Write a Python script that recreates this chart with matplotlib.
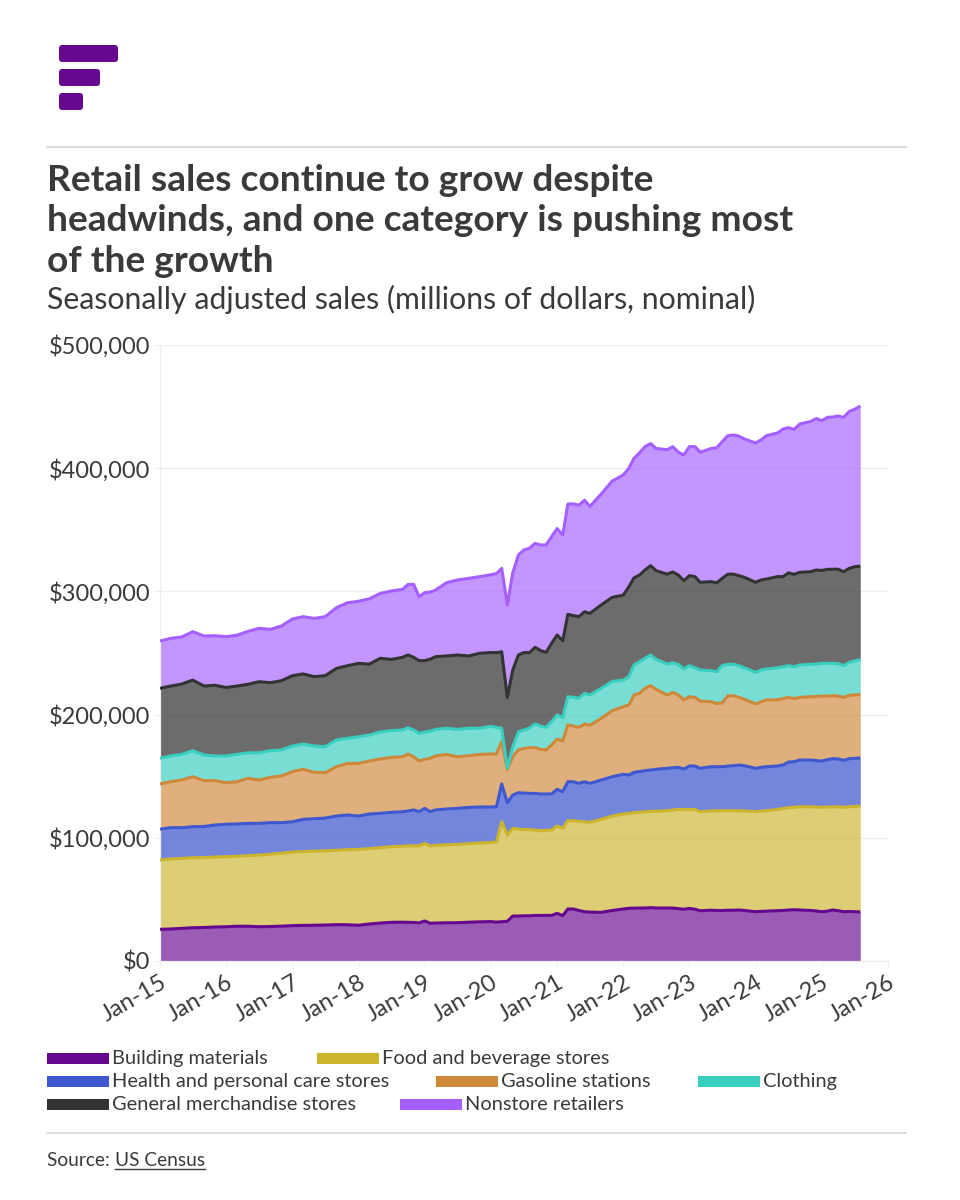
import numpy as np
import pandas as pd
import matplotlib
matplotlib.use("Agg")
import matplotlib.pyplot as plt
import matplotlib.dates as mdates
from matplotlib.patches import FancyBboxPatch, Rectangle
from matplotlib.ticker import FuncFormatter

plt.rcParams["font.family"] = ["Lato", "DejaVu Sans"]

months = ["2015-01","2015-03","2015-05","2015-07","2015-09","2015-11","2016-01","2016-03","2016-05","2016-07","2016-09","2016-11",
          "2017-01","2017-03","2017-05","2017-07","2017-09","2017-11","2018-01","2018-03","2018-05","2018-07","2018-09","2018-10",
          "2018-11","2018-12","2019-01","2019-02","2019-03","2019-05","2019-07","2019-09","2019-11","2020-01","2020-02","2020-03",
          "2020-04","2020-05","2020-06","2020-07","2020-08","2020-09","2020-10","2020-11","2020-12","2021-01","2021-02","2021-03",
          "2021-04","2021-05","2021-06","2021-07","2021-09","2021-11","2022-01","2022-02","2022-03","2022-04","2022-05","2022-06",
          "2022-07","2022-09","2022-10","2022-11","2022-12","2023-01","2023-02","2023-03","2023-05","2023-06","2023-07","2023-08",
          "2023-09","2023-10","2023-11","2024-01","2024-02","2024-03","2024-05","2024-06","2024-07","2024-08","2024-09","2024-11",
          "2024-12","2025-01","2025-02","2025-03","2025-04","2025-05","2025-06","2025-07","2025-08"]

# top edge of each stacked band, in $ thousand millions
building_top = [25.7,26,26.5,27,27.2,27.6,27.8,28.2,28.2,27.8,28,28.3,
                28.7,28.9,29,29.2,29.5,29.4,29,30,30.8,31.4,31.5,31.4,
                31.3,31,32.5,30.6,30.8,31,31.1,31.5,31.8,32,31.6,31.9,
                32.2,36.5,36.5,36.7,36.7,37,37,37,37,38.7,36.8,42.2,
                42.2,41,40,39.7,39.5,41,42.2,42.8,42.9,43,43,43.3,
                43,43,43,42.5,42,42.7,42,40.8,41.2,41,41,41.2,
                41.2,41.4,41,40,40.3,40.5,40.8,41,41.4,41.6,41.4,41,
                40.6,40,40.5,41.4,40.8,40,40.2,40,39.8]
food_top = [82,82.8,83.3,83.8,84,84.4,84.7,85,85.5,86,86.7,87.5,
            88.5,88.8,89.2,89.5,89.9,90.3,90.6,91.2,92,92.8,93.2,93.4,
            93.6,93.4,95.5,93.3,93.9,94.3,94.7,95.2,95.8,96.2,96.6,113,
            102.3,107.7,107,106.7,106.7,106.3,105.8,106,106.3,109.6,107.7,113.9,
            113.9,113.4,113,112.6,115,117.7,119.3,119.8,120.4,120.8,121.2,121.4,
            121.6,122,122.5,123,123,123,123,121.2,121.8,122,122,122,
            122,122,121.8,121.2,121.6,122,123,123.8,124.4,124.8,125.2,125.2,
            125,124.7,125,125,125.3,124.7,125.2,125.4,125.8]
health_top = [107,108.2,108.2,109,109.2,110.4,111,111.2,111.7,111.7,112.3,112.3,
              113,115,115.5,116,117.7,118.5,117.7,119.3,119.9,120.7,121.2,121.8,
              122.6,121.2,123.9,121.2,122.6,123.4,123.9,124.7,125,125,125.2,143.7,
              128.5,134.7,136.6,136.3,136.1,136,135.6,135.6,135.6,139.4,137.4,145.5,
              145.5,144.2,145.5,144.2,146.9,149.6,151.5,151,153.1,153.8,154.5,155,
              155.6,156.4,156.8,157.2,155.8,158.3,158.3,156.4,157.7,157.7,157.7,158.2,
              158.5,159.1,158.5,156.4,157.2,157.7,158.3,159.1,161.5,161.8,163.1,163.1,
              162.7,162.3,163.5,164.2,164,162.9,164.2,164.5,164.8]
gasoline_top = [143.7,145.5,146.9,149.6,146.4,146.4,144.7,145.5,148.3,146.9,149.1,150.2,
                153.7,155.6,153.2,152.9,157.7,160.4,160.4,162.3,164,165.3,165.8,168,
                165.8,162.3,163.7,164.5,166.4,167.7,165.8,166.6,167.7,168,168,178,
                155.6,165.8,171.3,172.6,173.1,173.3,171.8,171.3,175.3,180.2,178.6,191.6,
                190.7,189.6,192.4,191.3,196.9,203.2,206.4,207.8,215.9,217.3,221.3,223.5,
                220.5,215.9,218,215.9,211.9,214.5,214,211,210.4,209,209.5,215.3,
                215.3,214,212.4,208.6,210.4,211.9,212,213,214,213,214,214.5,
                214.7,215,215,215.3,215,214,215.6,216,216.2]
clothing_top = [164.5,166.4,167.7,170.7,167.2,166.4,166.4,167.7,169,169,170.7,171.3,
                174.5,176.1,174.5,174,179.4,180.8,182,183.4,186,187,187.5,189.4,
                187.5,184.8,185.9,186.5,188,188.9,188,188.9,188.9,190.5,189.6,189,
                156.6,174,186,187.5,189,192.4,190.7,189.6,194.2,199.7,197.7,214.5,
                214,213.2,217.2,215.9,221.3,226.9,228,230.8,240.3,242.9,245.7,248.4,
                244.8,241,242,240.8,237,239.7,238,236.2,235.6,234.8,239.7,240.8,
                240.8,239.7,238,234.3,236.2,237,238,238.8,239.7,238.9,240.3,240.8,
                241,241.6,241.6,241.6,241.4,239.7,242.4,243.5,244.8]
general_top = [221.3,223.2,224.8,228,223.2,223.8,222,223.2,224.6,226.7,225.9,227.5,
               231.6,233,230.8,231.6,237.5,239.7,241.6,241,245.7,244.8,246.5,248.4,
               246.5,243.8,243.8,245,247,247.6,248.4,247.6,249.8,250.4,250.3,251,
               214,236.2,248.4,250.3,250.3,254.6,252,250.5,257.8,264.6,260,281.4,
               280.3,279.5,283.5,282.2,289,295.2,297,303.8,311,313.3,317.4,320.9,
               316.8,314,315.8,313.3,308.7,312.8,312,307.4,307.9,307,310.6,314,
               314,312.8,311.4,307.4,309.3,310,312,312,315,313.9,315.5,316,
               317.4,317,317.9,318,318,316,318.7,320,320.6]
nonstore_top = [259.7,261.9,263,267.3,263.8,264,263.3,264.4,267.6,270,269.2,271.9,
                277.6,279.5,278.1,279.5,286.8,290.8,292,294,298.4,300.3,301.7,305.7,
                305.7,295.7,298.9,299.5,301,307,309.3,310.6,312,313.5,314.5,318.7,
                289,315,329.5,333.6,335,339,337.7,337.7,344.4,351,345.8,371,
                371,370,374,369,379,389.6,394.5,400,408,412.6,417.5,420,
                416,415,417.5,413,410.7,417.5,417.5,413,416,416.7,421.5,426.4,
                427,426,423.7,420.5,423,426.4,428.6,431.8,432.9,431.5,435.9,438,
                440.3,438.6,441.3,441.5,442.4,441.3,446,447.8,450.5]

names = ["Building materials", "Food and beverage stores", "Health and personal care stores",
         "Gasoline stations", "Clothing", "General merchandise stores", "Nonstore retailers"]
colors = ["#66078f", "#ccb42c", "#3f58cf", "#cf873a", "#38cfc0", "#333333", "#a55eff"]
fill_alphas = [0.66, 0.66, 0.72, 0.66, 0.68, 0.72, 0.66]
tops = [building_top, food_top, health_top, gasoline_top, clothing_top, general_top, nonstore_top]

year_ticks = [str(y) for y in range(2015, 2027)]
y_ticks = [0, 100000, 200000, 300000, 400000, 500000]

text_color = "#3a3a3a"
W, H = 960, 1200

fig = plt.figure(figsize=(W / 100, H / 100), dpi=100)

# full-figure overlay in pixel coordinates for header, legend and footer
page = fig.add_axes([0, 0, 1, 1])
page.set_xlim(0, W)
page.set_ylim(H, 0)
page.axis("off")

ax = fig.add_axes([160 / W, 1 - 961 / H, 728 / W, 616 / H])

dates = pd.to_datetime(months)
lower = np.zeros(len(months))
for top, color, fill_alpha in zip(tops, colors, fill_alphas):
    upper = np.array(top) * 1000
    ax.fill_between(dates, lower, upper, color=color, alpha=fill_alpha, lw=0, zorder=2)
    lower = upper
# outlines go on afterwards so the next band does not cover them
for top, color in zip(tops, colors):
    ax.plot(dates, np.array(top) * 1000, color=color, lw=2.2, zorder=3,
            solid_joinstyle="round", solid_capstyle="butt")

ax.set_xlim(pd.Timestamp("2015-01-01"), pd.Timestamp("2026-01-01"))
ax.set_ylim(0, 500000)
ax.set_xticks(pd.to_datetime(year_ticks))
ax.xaxis.set_major_formatter(mdates.DateFormatter("%b-%y"))
ax.set_yticks(y_ticks)
ax.yaxis.set_major_formatter(FuncFormatter(lambda v, pos: f"${v:,.0f}"))
ax.grid(axis="y", color="#eeeeee", lw=0.9, zorder=0)
ax.set_axisbelow(True)
for side in ["top", "right"]:
    ax.spines[side].set_visible(False)
for side in ["left", "bottom"]:
    ax.spines[side].set_color("#eeeeee")
    ax.spines[side].set_linewidth(0.9)
ax.tick_params(axis="y", length=4, color="#eeeeee", labelsize=17, labelcolor=text_color, pad=3)
ax.tick_params(axis="x", length=4, color="#eeeeee", labelsize=17, labelcolor=text_color, pad=4)
for label in ax.get_xticklabels():
    label.set_rotation(30)
    label.set_ha("right")
    label.set_rotation_mode("anchor")

# logo
for x0, x1, y0, y1 in [(59, 118, 45, 62), (59, 100, 69, 86), (59, 83, 93, 110)]:
    page.add_patch(FancyBboxPatch((x0 + 3, y0 + 3), x1 - x0 - 6, y1 - y0 - 6,
                                  boxstyle="round,pad=3,rounding_size=3", fc="#66078f", ec="none"))

# rules
page.plot([47, 906], [147, 147], color="#dddddd", lw=1.6)
page.plot([47, 906], [1133, 1133], color="#dddddd", lw=1.4)

# title and subtitle
title_lines = ["Retail sales continue to grow despite",
               "headwinds, and one category is pushing most",
               "of the growth"]
for line, y in zip(title_lines, [191, 231, 272]):
    page.text(47, y, line, fontsize=26.7, fontweight="bold", color=text_color, va="baseline", ha="left")
page.text(47, 309, "Seasonally adjusted sales (millions of dollars, nominal)",
          fontsize=21.8, color=text_color, va="baseline", ha="left")

# legend, laid out in the same rows as the reference
legend_pos = [(47, 1058), (317, 1058), (47, 1081), (436, 1081), (698, 1081), (47, 1104), (400, 1104)]
for name, color, (x, y) in zip(names, colors, legend_pos):
    page.add_patch(Rectangle((x, y - 5.5), 62, 11, fc=color, ec="none"))
    page.text(x + 65, y + 6, name, fontsize=14.4, color=text_color, va="baseline", ha="left")

# source, with the link underlined
page.text(47, 1166, "Source: ", fontsize=13.8, color=text_color, va="baseline", ha="left")
link_x = 115
link = page.text(link_x, 1166, "US Census", fontsize=13.8, color=text_color, va="baseline", ha="left")
fig.canvas.draw()
link_box = link.get_window_extent()
page.plot([link_x, link_x + link_box.width], [1168.5, 1168.5], color=text_color, lw=1)

fig.savefig("out.png", dpi=100)
